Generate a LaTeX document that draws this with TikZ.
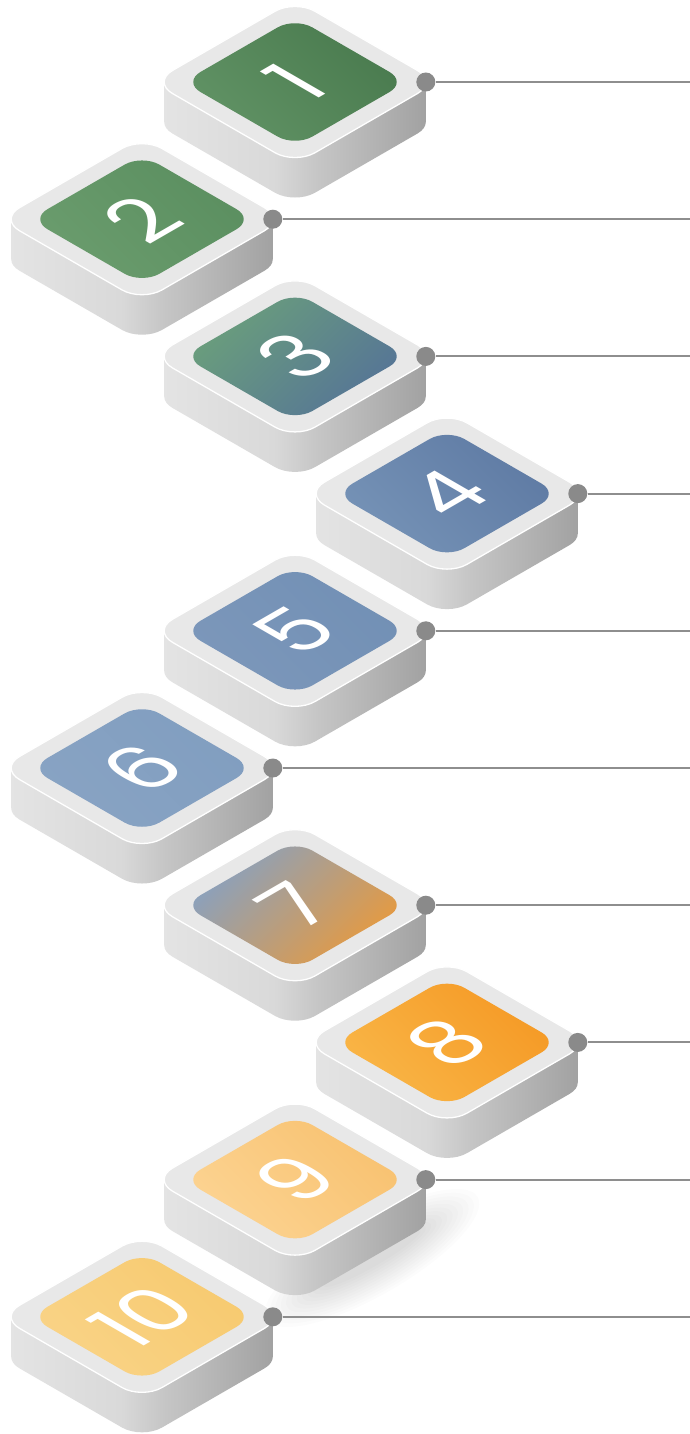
\documentclass[tikz,border=0pt]{standalone}
\usepackage{fontspec}
\newfontfamily\numfont{Poppins}
\definecolor{sideL}{HTML}{E4E4E4}
\definecolor{sideM}{HTML}{D9D9D9}
\definecolor{sideN}{HTML}{C6C6C6}
\definecolor{sideR}{HTML}{A1A1A1}
\definecolor{topgray}{HTML}{E8E8E8}
\definecolor{dotgray}{HTML}{8A8A8A}
\definecolor{linegray}{HTML}{8E8E8E}
\definecolor{t1a}{HTML}{4A7B4F}\definecolor{t1b}{HTML}{609264}
\definecolor{t2a}{HTML}{5B8F60}\definecolor{t2b}{HTML}{6A9C6D}
\definecolor{t3a}{HTML}{6A9E7C}\definecolor{t3b}{HTML}{567596}
\definecolor{t4a}{HTML}{5F7BA4}\definecolor{t4b}{HTML}{7592B6}
\definecolor{t5a}{HTML}{7290B5}\definecolor{t5b}{HTML}{7C97BA}
\definecolor{t6a}{HTML}{819EC0}\definecolor{t6b}{HTML}{88A3C3}
\definecolor{t7a}{HTML}{89A1BF}\definecolor{t7b}{HTML}{E69A40}
\definecolor{t8a}{HTML}{F59A26}\definecolor{t8b}{HTML}{F9B546}
\definecolor{t9a}{HTML}{F8C271}\definecolor{t9b}{HTML}{FCD391}
\definecolor{t10a}{HTML}{F7CA70}\definecolor{t10b}{HTML}{F9D386}
\pgfdeclarehorizontalshading{tileside}{100bp}{color(0bp)=(sideL); color(25bp)=(sideL); color(46bp)=(sideM); color(54bp)=(sideN); color(75bp)=(sideR); color(100bp)=(sideR)}
% rounded square path in local coordinates: centre (#1,#2), half side #3, radius #4
\newcommand\rsqp[4]{({#1-#3+#4},{#2-#3}) -- ({#1+#3-#4},{#2-#3}) .. controls ({#1+#3-0.4477*#4},{#2-#3}) and ({#1+#3},{#2-#3+0.4477*#4}) .. ({#1+#3},{#2-#3+#4}) -- ({#1+#3},{#2+#3-#4}) .. controls ({#1+#3},{#2+#3-0.4477*#4}) and ({#1+#3-0.4477*#4},{#2+#3}) .. ({#1+#3-#4},{#2+#3}) -- ({#1-#3+#4},{#2+#3}) .. controls ({#1-#3+0.4477*#4},{#2+#3}) and ({#1-#3},{#2+#3-0.4477*#4}) .. ({#1-#3},{#2+#3-#4}) -- ({#1-#3},{#2-#3+#4}) .. controls ({#1-#3},{#2-#3+0.4477*#4}) and ({#1-#3+0.4477*#4},{#2-#3}) .. ({#1-#3+#4},{#2-#3}) -- cycle}
\tikzset{
  outerface/.style={fill=topgray, draw=white, line width=1.3pt},
  numtext/.style={text=white, inner sep=0pt, font=\numfont\fontsize{83pt}{83pt}\selectfont},
  joindot/.style={circle, fill=dotgray, minimum size=19pt, inner sep=0pt},
  conn/.style={draw=linegray, line width=2pt},
  shadowlayer/.style={fill=black, opacity=0.011}
}
\newcommand\drawtile[4]{%
  \begin{scope}[shift={(#2,-#3)}, x={(0.8660pt,0.5pt)}, y={(-0.8660pt,0.5pt)}]
    \shade[shading=tileside] (-130.8pt,-40pt) -- (130.8pt,-40pt) -- (130.8pt,0pt) -- (-130.8pt,0pt) -- cycle \rsqp{-40}{-40}{82.25}{23};
    \path[outerface] \rsqp{0}{0}{82.25}{23};
    \shade[#4] \rsqp{0}{0}{64.6}{20};
    \node[numtext, cm={0.866,0.5,-0.866,0.5,(0,0)}] (n#1) at (0,0) {#1};
  \end{scope}
  \node[joindot] (d#1) at ({#2+130.8},-#3) {};
  \coordinate (e#1) at (690,-#3);
  \draw[conn] (d#1) -- (e#1);
}
\begin{document}
\begin{tikzpicture}[x=1pt,y=1pt]
\fill[white] (0,0) rectangle (690,-1434);
\useasboundingbox (0,0) rectangle (690,-1434);
\drawtile{1}{295}{82}{top color=t1a,bottom color=t1b,shading angle=-45}
\drawtile{2}{142}{219.2}{top color=t2a,bottom color=t2b,shading angle=-45}
\drawtile{3}{295}{356.4}{top color=t3a,bottom color=t3b,shading angle=45}
\drawtile{4}{447}{493.6}{top color=t4a,bottom color=t4b,shading angle=-45}
\drawtile{5}{295}{630.8}{top color=t5a,bottom color=t5b,shading angle=-45}
\drawtile{6}{142}{768}{top color=t6a,bottom color=t6b,shading angle=-45}
\drawtile{7}{295}{905.2}{top color=t7a,bottom color=t7b,shading angle=45}
\drawtile{8}{447}{1042.4}{top color=t8a,bottom color=t8b,shading angle=-45}
\begin{scope}[rotate around={30:(372,-1258)}]
  \foreach \k in {1,...,12}
    \fill[shadowlayer] (372,-1258) ellipse ({50+6*\k} and {6+2.6*\k});
\end{scope}
\drawtile{9}{295}{1179.6}{top color=t9a,bottom color=t9b,shading angle=-45}
\drawtile{10}{142}{1316.8}{top color=t10a,bottom color=t10b,shading angle=-45}
\end{tikzpicture}
\end{document}
